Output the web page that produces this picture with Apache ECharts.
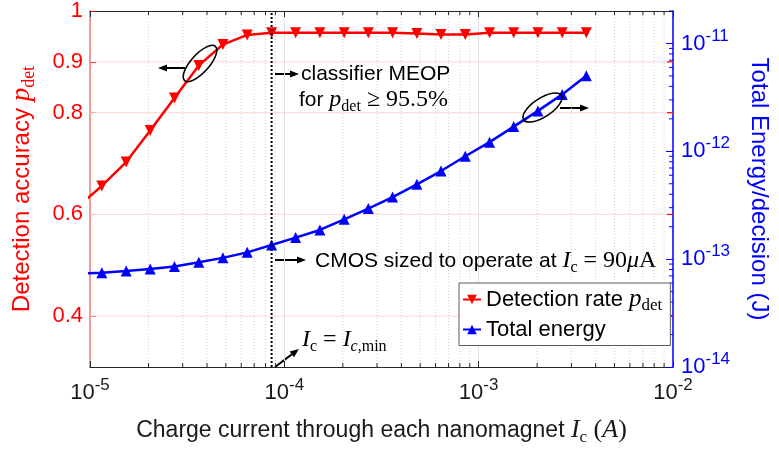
<!DOCTYPE html>
<html>
<head>
<meta charset="utf-8">
<script src="https://cdn.jsdelivr.net/npm/echarts@6/dist/echarts.min.js"></script>
<style>
  html, body { margin: 0; padding: 0; background: #fff; }
  #chart { width: 779px; height: 451px; }
</style>
</head>
<body>
<div id="chart"></div>
<script>
// Charge current per nanomagnet (A); the first sample sits just left of the axis range
const currents = [8.63e-6, 1.15e-5, 1.535e-5, 2.04e-5, 2.72e-5, 3.63e-5, 4.83e-5, 6.44e-5,
  8.6e-5, 1.143e-4, 1.524e-4, 2.032e-4, 2.704e-4, 3.606e-4, 4.808e-4, 6.4e-4,
  8.53e-4, 1.138e-3, 1.514e-3, 2.018e-3, 2.692e-3, 3.58e-3];
// Detection accuracy p_det
const detectionRate = [0.615, 0.656, 0.703, 0.765, 0.829, 0.893, 0.934, 0.953,
  0.957, 0.957, 0.957, 0.957, 0.957, 0.957, 0.956, 0.954,
  0.954, 0.957, 0.957, 0.957, 0.957, 0.957];
// Total energy per decision (J)
const totalEnergy = [7.3e-14, 7.5e-14, 7.75e-14, 8.09e-14, 8.55e-14, 9.37e-14, 1.028e-13, 1.156e-13,
  1.352e-13, 1.585e-13, 1.866e-13, 2.339e-13, 2.944e-13, 3.76e-13, 4.94e-13, 6.56e-13,
  9.0e-13, 1.216e-12, 1.694e-12, 2.37e-12, 3.37e-12, 5.02e-12];
// Minimum operating current marked by the dotted line
const IC_MIN = 8.6e-5;
// Axis ranges and tick values
const X_RANGE = [1e-5, 1e-2];
const ACC_RANGE = [0.3, 1];
const ENERGY_RANGE = [1e-14, 2e-11];
const accTicks = [0.4, 0.6, 0.8, 0.9, 1];
const accGrid = [0.4, 0.6, 0.8, 0.9];
const xDecades = [1e-5, 1e-4, 1e-3];
const energyDecades = [1e-14, 1e-13, 1e-12];
const minorSteps = [2, 3, 4, 5, 6, 7, 8, 9];

const xMinor = [];
xDecades.forEach(d => minorSteps.forEach(m => xMinor.push(m * d)));
const energyMinor = [];
energyDecades.forEach(d => minorSteps.forEach(m => energyMinor.push(m * d)));
energyMinor.push(2e-11);

const SANS = 'Liberation Sans, Arial, Helvetica, sans-serif';
const SERIF = 'Liberation Serif, Times New Roman, serif';
const RED = '#ff0000', BLUE = '#0000ff', INK = '#1a1a1a';

function mathRich(size, color) {
  const L = size + 8;
  return {
    n: { fontFamily: SANS, fontSize: size, color, lineHeight: L, verticalAlign: 'middle' },
    i: { fontFamily: SERIF, fontStyle: 'italic', fontSize: size + 3, color, lineHeight: L, verticalAlign: 'middle' },
    r: { fontFamily: SERIF, fontSize: size + 3, color, lineHeight: L, verticalAlign: 'middle' },
    sub: { fontFamily: SERIF, fontSize: Math.round(size * 0.75), color, lineHeight: size - 4, verticalAlign: 'bottom' },
    subi: { fontFamily: SERIF, fontStyle: 'italic', fontSize: Math.round(size * 0.75), color, lineHeight: size - 4, verticalAlign: 'bottom' }
  };
}
function powRich(size, color) {
  return {
    b: { fontFamily: SANS, fontSize: size, color, lineHeight: 32, verticalAlign: 'middle' },
    s: { fontFamily: SANS, fontSize: Math.round(size * 0.75), color, lineHeight: 14, verticalAlign: 'top' }
  };
}
function powLabel(v) {
  const lg = Math.log10(v);
  const e = Math.round(lg);
  if (Math.abs(lg - e) > 1e-6) return '';
  return '{b|10}{s|' + e + '}';
}
function accLabel(v) {
  const hit = accTicks.some(t => Math.abs(t - v) < 1e-6);
  if (!hit) return '';
  return Math.abs(v - 1) < 1e-6 ? '1' : String(Math.round(v * 10) / 10);
}

// Annotation shapes (ellipses, arrows, notes)
function ellipse(cx, cy, rx, ry, deg) {
  return { type: 'ellipse', x: cx, y: cy, rotation: deg * Math.PI / 180,
    shape: { cx: 0, cy: 0, rx, ry }, style: { fill: 'none', stroke: '#000', lineWidth: 1.6 }, z: 20 };
}
function arrow(x1, y1, x2, y2) {
  const a = Math.atan2(y2 - y1, x2 - x1), hl = 9, hw = 3.6;
  const bx = x2 - hl * Math.cos(a), by = y2 - hl * Math.sin(a);
  const px = -Math.sin(a) * hw, py = Math.cos(a) * hw;
  return { type: 'group', z: 20, children: [
    { type: 'line', shape: { x1, y1, x2: bx, y2: by }, style: { stroke: '#000', lineWidth: 2 } },
    { type: 'polygon', shape: { points: [[x2, y2], [bx + px, by + py], [bx - px, by - py]] }, style: { fill: '#000' } }
  ] };
}
function note(x, y, text, size) {
  return { type: 'text', x, y, z: 20,
    style: { text, rich: mathRich(size, '#000'), align: 'left', verticalAlign: 'middle' } };
}

const chart = echarts.init(document.getElementById('chart'), null, { renderer: 'canvas' });

chart.setOption({
  animation: false,
  backgroundColor: '#fff',
  grid: { left: 90, right: 102, top: 8, bottom: 83 },
  legend: {
    orient: 'vertical', left: 459, top: 283,
    data: ['Detection rate', 'Total energy'],
    itemWidth: 18, itemHeight: 12, itemGap: 4,
    padding: [4, 8, 5, 3],
    backgroundColor: '#fff', borderColor: '#5a5a5a', borderWidth: 1, borderRadius: 0,
    formatter: name => name === 'Detection rate' ? '{n|Detection rate }{i|p}{sub|det}' : '{n|Total energy}',
    textStyle: { rich: mathRich(22, '#000') }
  },
  xAxis: [{
    type: 'log', min: X_RANGE[0], max: X_RANGE[1], position: 'bottom',
    name: '{n|Charge current through each nanomagnet }{i|I}{sub|c}{r| (}{i|A}{r|)}',
    nameLocation: 'middle', nameGap: 48,
    nameTextStyle: { rich: mathRich(23, INK) },
    axisLine: { lineStyle: { color: '#262626', width: 1 } },
    axisTick: { inside: true, length: 6, lineStyle: { color: '#262626' } },
    axisLabel: { margin: 10, formatter: powLabel, rich: powRich(22, INK) },
    splitLine: { show: true, lineStyle: { color: '#e2e2e2', width: 1 } }
  }, {
    type: 'log', min: X_RANGE[0], max: X_RANGE[1], position: 'top',
    axisLine: { lineStyle: { color: '#262626', width: 1 } },
    axisTick: { inside: true, length: 6, lineStyle: { color: '#262626' } },
    axisLabel: { show: false }, splitLine: { show: false }
  }],
  yAxis: [{
    type: 'value', min: ACC_RANGE[0], max: ACC_RANGE[1], interval: 0.1, position: 'left',
    name: '{n|Detection accuracy }{i|p}{sub|det}',
    nameLocation: 'middle', nameGap: 52,
    nameTextStyle: { rich: mathRich(24, RED) },
    axisLine: { show: true, lineStyle: { color: '#f07c7c', width: 1.5 } },
    axisTick: { show: true, inside: true, length: 6, lineStyle: { color: RED }, customValues: accTicks },
    axisLabel: { margin: 7, color: RED, fontFamily: SANS, fontSize: 22, formatter: accLabel, customValues: accTicks, showMaxLabel: true },
    splitLine: { show: false }
  }, {
    type: 'log', min: ENERGY_RANGE[0], max: ENERGY_RANGE[1], position: 'right',
    name: 'Total Energy/decision (J)',
    nameLocation: 'middle', nameGap: 74, nameRotate: -90,
    nameTextStyle: { color: BLUE, fontFamily: SANS, fontSize: 24 },
    axisLine: { show: true, lineStyle: { color: BLUE, width: 1.5 } },
    axisTick: { show: true, inside: true, length: 7, lineStyle: { color: BLUE } },
    axisLabel: { margin: 8, formatter: powLabel, rich: powRich(22, BLUE), showMaxLabel: false },
    splitLine: { show: false }
  }],
  graphic: { elements: [
    ellipse(200, 63.5, 23, 9, 48),
    ellipse(542.5, 107.5, 22.5, 9.3, 33),
    arrow(185, 68, 158, 68),
    arrow(560, 108, 589, 108),
    arrow(275, 74, 299, 74),
    arrow(275, 260, 306, 260),
    arrow(275, 367, 299, 349),
    note(301, 74, '{n|classifier MEOP}', 21),
    note(299, 100, '{n|for }{i|p}{sub|det}{r| ≥ 95.5%}', 21),
    note(315, 261, '{n|CMOS sized to operate at }{i|I}{sub|c}{r| = 90}{i|μ}{r|A}', 21),
    note(302, 340, '{i|I}{sub|c}{r| = }{i|I}{subi|c}{sub|,min}', 21)
  ] },
  series: [
    {
      // minor vertical grid lines and minor x ticks at 2..9 per decade
      type: 'custom', name: 'xminor', xAxisIndex: 0, yAxisIndex: 0, silent: true, z: 1,
      data: xMinor.map(v => [v]),
      renderItem: (params, api) => {
        const v = api.value(0);
        const b = api.coord([v, ACC_RANGE[0]]), t = api.coord([v, ACC_RANGE[1]]);
        return { type: 'group', children: [
          { type: 'line', shape: { x1: b[0], y1: b[1], x2: t[0], y2: t[1] }, style: { stroke: '#cfcfcf', lineWidth: 1, lineDash: [1, 2] } },
          { type: 'line', shape: { x1: b[0], y1: b[1], x2: b[0], y2: b[1] - 4 }, style: { stroke: '#262626', lineWidth: 1 } },
          { type: 'line', shape: { x1: t[0], y1: t[1], x2: t[0], y2: t[1] + 4 }, style: { stroke: '#262626', lineWidth: 1 } }
        ] };
      }
    },
    {
      // accuracy grid lines, with matching red ticks on the right spine
      type: 'custom', name: 'accgrid', xAxisIndex: 0, yAxisIndex: 0, silent: true, z: 1,
      data: accGrid.map(v => [v]),
      renderItem: (params, api) => {
        const v = api.value(0);
        const l = api.coord([X_RANGE[0], v]), r = api.coord([X_RANGE[1], v]);
        return { type: 'group', children: [
          { type: 'line', shape: { x1: l[0], y1: l[1], x2: r[0], y2: r[1] }, style: { stroke: '#ffd6d6', lineWidth: 1 } },
          { type: 'line', shape: { x1: r[0], y1: r[1], x2: r[0] - 6, y2: r[1] }, style: { stroke: RED, lineWidth: 1.2 } }
        ] };
      }
    },
    {
      // minor ticks on the energy axis
      type: 'custom', name: 'eminor', xAxisIndex: 0, yAxisIndex: 1, silent: true, z: 1,
      data: energyMinor.map(v => [X_RANGE[1], v]),
      renderItem: (params, api) => {
        const p = api.coord([X_RANGE[1], api.value(1)]);
        return { type: 'line', shape: { x1: p[0], y1: p[1], x2: p[0] - 4, y2: p[1] }, style: { stroke: BLUE, lineWidth: 1 } };
      }
    },
    {
      name: 'Detection rate', type: 'line', xAxisIndex: 0, yAxisIndex: 0, z: 5,
      data: currents.map((x, i) => [x, detectionRate[i]]),
      symbol: 'triangle', symbolRotate: 180, symbolSize: 11,
      itemStyle: { color: RED }, lineStyle: { color: RED, width: 2.5 },
      clip: true
    },
    {
      name: 'Total energy', type: 'line', xAxisIndex: 0, yAxisIndex: 1, z: 5,
      data: currents.map((x, i) => [x, totalEnergy[i]]),
      symbol: 'triangle', symbolSize: 11,
      itemStyle: { color: BLUE }, lineStyle: { color: BLUE, width: 2.5 },
      clip: true
    },
    {
      // dotted marker at the minimum operating current
      type: 'custom', name: 'icmin', xAxisIndex: 0, yAxisIndex: 0, silent: true, z: 8,
      data: [[IC_MIN]],
      renderItem: (params, api) => {
        const v = api.value(0);
        const b = api.coord([v, ACC_RANGE[0]]), t = api.coord([v, ACC_RANGE[1]]);
        return { type: 'line', shape: { x1: b[0], y1: b[1], x2: t[0], y2: t[1] },
          style: { stroke: '#000', lineWidth: 2, lineDash: [2, 2] } };
      }
    }
  ]
});
</script>
</body>
</html>
